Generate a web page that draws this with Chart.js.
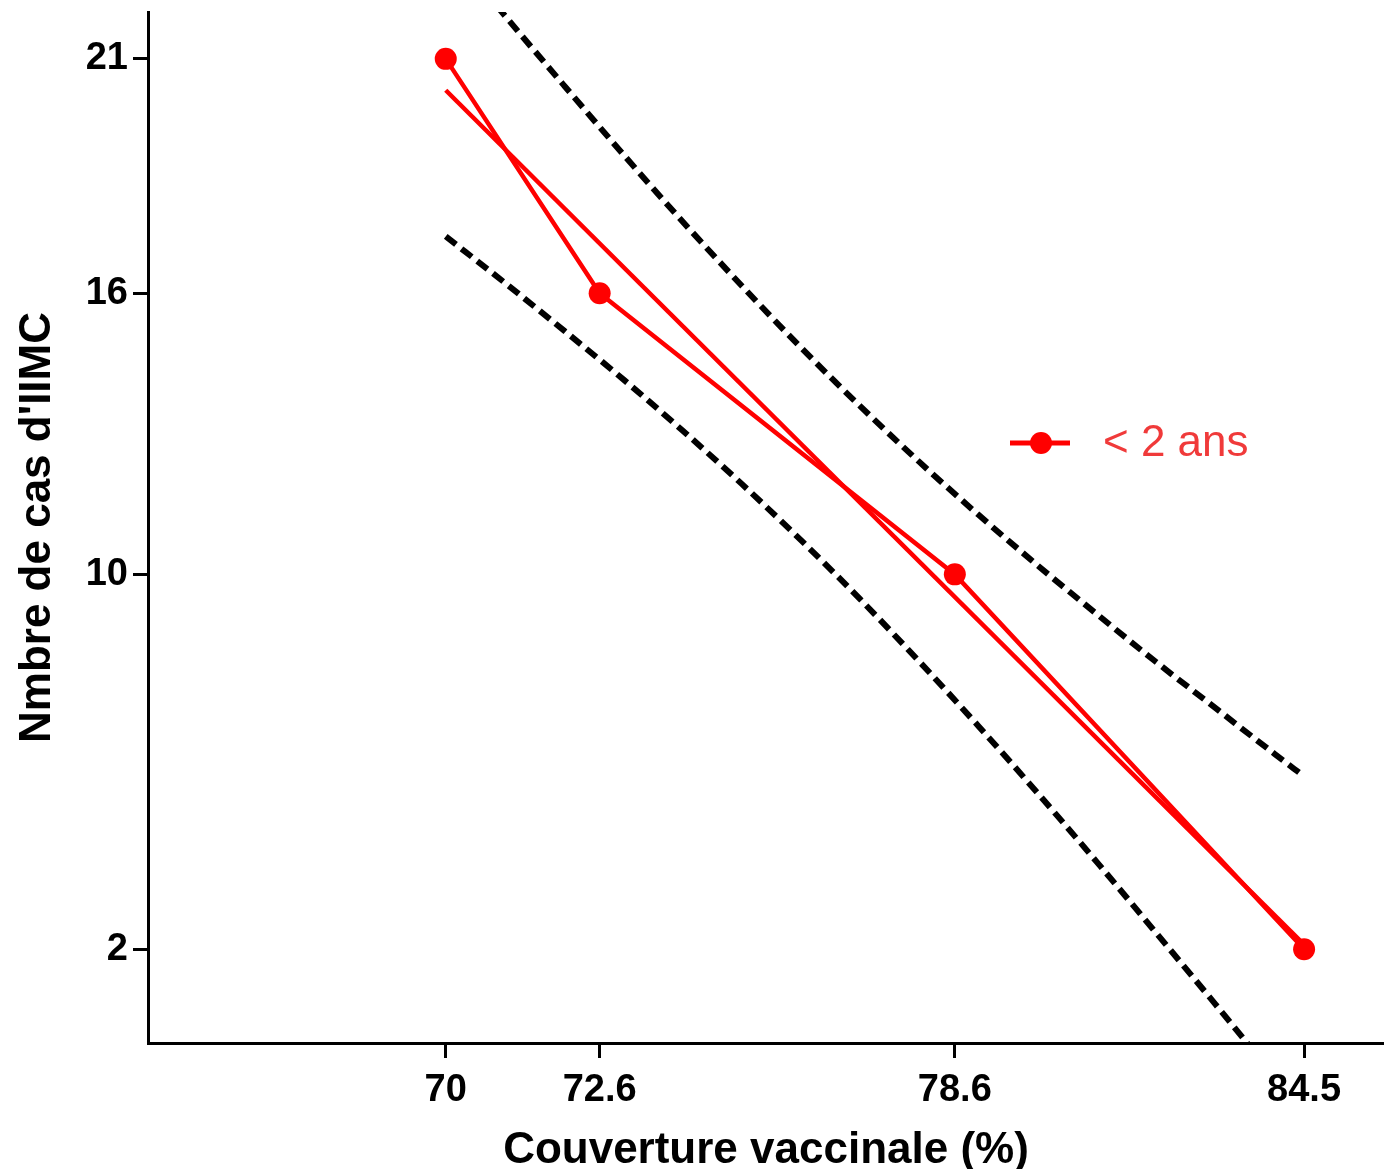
<!DOCTYPE html>
<html lang="fr">
<head>
<meta charset="utf-8">
<title>Nombre de cas d'IIMC selon la couverture vaccinale</title>
<script src="https://cdn.jsdelivr.net/npm/chart.js@4.4.1/dist/chart.umd.min.js"></script>
<style>
    html, body { margin: 0; padding: 0; background: #fff; overflow: hidden; }
    #chart { display: block; }
</style>
</head>
<body>
<canvas id="chart" width="1384" height="1169"></canvas>
<script>
// observed cases per vaccine coverage level
const seriesLabel = '< 2 ans';
const coverage = [70, 72.6, 78.6, 84.5];
const cases = [21, 16, 10, 2];

// fitted regression line (end points)
const fitX = [70, 84.5];
const fitY = [20.33, 2.10];

// 95% confidence band around the fit
const bandX = [70, 71, 72, 73, 74, 75, 76, 77, 78, 79, 80, 81, 82, 83, 84, 84.5];
const bandUpper = [23.45, 21.92, 20.43, 18.96, 17.53, 16.16, 14.84, 13.59, 12.40, 11.27, 10.19, 9.15, 8.13, 7.15, 6.17, 5.69];
const bandLower = [17.21, 16.22, 15.20, 14.16, 13.07, 11.93, 10.73, 9.47, 8.14, 6.76, 5.33, 3.86, 2.35, 0.83, -0.72, -1.49];

// axis ticks
const xTicks = [70, 72.6, 78.6, 84.5];
const yTicks = [2, 10, 16, 21];

const FONT = '"Liberation Sans", Arial, sans-serif';
const RED = '#ff0000';

const toPoints = (xs, ys) => xs.map((x, i) => ({ x: x, y: ys[i] }));

// keep the plot flush with the layout box: no extra room for edge labels
function noEdgePadding(s) {
    s.paddingTop = 0;
    s.paddingBottom = 0;
    s.paddingLeft = 0;
    s.paddingRight = 0;
}

// legend drawn inside the plot, right of the curves
const insideLegend = {
    id: 'insideLegend',
    afterDraw(chart) {
        const { ctx, chartArea } = chart;
        const x = chartArea.left + 862;
        const y = chartArea.top + 431;
        ctx.save();
        ctx.strokeStyle = RED;
        ctx.lineWidth = 5;
        ctx.beginPath();
        ctx.moveTo(x, y);
        ctx.lineTo(x + 60, y);
        ctx.stroke();
        ctx.fillStyle = RED;
        ctx.beginPath();
        ctx.arc(x + 31, y, 11, 0, Math.PI * 2);
        ctx.fill();
        ctx.fillStyle = '#f03a3a';
        ctx.font = '44px ' + FONT;
        ctx.textBaseline = 'middle';
        ctx.textAlign = 'left';
        ctx.fillText(seriesLabel, x + 93, y + 1);
        ctx.restore();
    }
};

const dashed = {
    borderColor: '#000',
    borderWidth: 6,
    borderDash: [13, 7],
    pointRadius: 0,
    fill: false,
    cubicInterpolationMode: 'monotone'
};

const ctx = document.getElementById('chart').getContext('2d');
new Chart(ctx, {
    type: 'line',
    data: {
        datasets: [
            Object.assign({ label: 'upper', data: toPoints(bandX, bandUpper) }, dashed),
            Object.assign({ label: 'lower', data: toPoints(bandX, bandLower) }, dashed),
            {
                label: 'fit',
                data: toPoints(fitX, fitY),
                borderColor: RED,
                borderWidth: 4.5,
                pointRadius: 0
            },
            {
                label: seriesLabel,
                data: toPoints(coverage, cases),
                borderColor: RED,
                backgroundColor: RED,
                borderWidth: 4.5,
                pointRadius: 11,
                pointBorderWidth: 0
            }
        ]
    },
    options: {
        responsive: false,
        animation: false,
        layout: { autoPadding: false, padding: { top: 12, right: 0, left: 0, bottom: 0 } },
        scales: {
            x: {
                type: 'linear',
                min: 64.97,
                max: 85.85,
                afterFit: s => { s.height = 126; noEdgePadding(s); },
                afterBuildTicks: s => { s.ticks = xTicks.map(v => ({ value: v })); },
                grid: { drawOnChartArea: false, tickLength: 15, tickWidth: 3, tickColor: '#000' },
                border: { color: '#000', width: 3 },
                ticks: {
                    color: '#000',
                    padding: 10,
                    maxRotation: 0,
                    font: { family: FONT, size: 38, weight: 'bold' },
                    callback: v => String(v)
                },
                title: {
                    display: true,
                    text: 'Couverture vaccinale (%)',
                    color: '#000',
                    font: { family: FONT, size: 44, weight: 'bold', lineHeight: 1 },
                    padding: { top: 0, bottom: -4 }
                }
            },
            y: {
                type: 'linear',
                min: 0,
                max: 22,
                afterFit: s => { s.width = 148; noEdgePadding(s); },
                afterBuildTicks: s => { s.ticks = yTicks.map(v => ({ value: v })); },
                grid: { drawOnChartArea: false, tickLength: 15, tickWidth: 3, tickColor: '#000' },
                border: { color: '#000', width: 3 },
                ticks: {
                    color: '#000',
                    padding: 5,
                    font: { family: FONT, size: 38, weight: 'bold' },
                    callback: v => String(v)
                },
                title: {
                    display: true,
                    text: "Nmbre de cas d'IIMC",
                    color: '#000',
                    font: { family: FONT, size: 44, weight: 'bold', lineHeight: 1 },
                    padding: { top: 16, bottom: 0 }
                }
            }
        },
        plugins: {
            legend: { display: false },
            tooltip: { enabled: false }
        }
    },
    plugins: [insideLegend]
});
</script>
</body>
</html>
